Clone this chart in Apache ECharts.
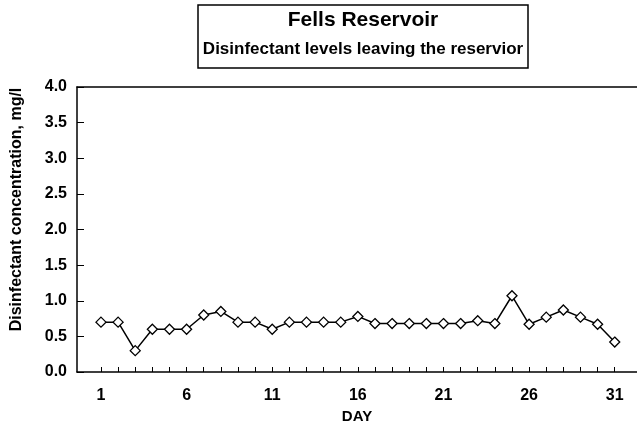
<!DOCTYPE html>
<html>
<head>
<meta charset="utf-8">
<script src="https://cdn.jsdelivr.net/npm/echarts@6/dist/echarts.min.js"></script>
<style>
  html, body { margin: 0; padding: 0; background: #fff; }
  #main { width: 637px; height: 429px; }
</style>
</head>
<body>
<div id="main"></div>
<script>
const days = [1, 2, 3, 4, 5, 6, 7, 8, 9, 10, 11, 12, 13, 14, 15, 16,
  17, 18, 19, 20, 21, 22, 23, 24, 25, 26, 27, 28, 29, 30, 31]
const levels = [0.7, 0.7, 0.3, 0.6, 0.6, 0.6, 0.8, 0.85, 0.7, 0.7, 0.6,
  0.7, 0.7, 0.7, 0.7, 0.78, 0.68, 0.68, 0.68, 0.68, 0.68, 0.68, 0.72,
  0.68, 1.07, 0.67, 0.77, 0.87, 0.77, 0.67, 0.42]
const dayLabels = [1, 6, 11, 16, 21, 26, 31]

const font = 'Liberation Sans, Arial, sans-serif'

var myChart = echarts.init(document.getElementById('main'))

let option = {
  animation: false,
  backgroundColor: '#fff',
  title: {
    text: 'Fells Reservoir',
    subtext: 'Disinfectant levels leaving the reservior',
    left: 358,
    top: 5,
    itemGap: 10,
    padding: [5, 5, 10, 5],
    borderColor: '#000',
    borderWidth: 1.5,
    textAlign: 'center',
    textStyle: { fontFamily: font, fontSize: 21, fontWeight: 'bold', color: '#000' },
    subtextStyle: { fontFamily: font, fontSize: 17, fontWeight: 'bold', color: '#000' },
  },
  grid: { left: 77, top: 87, right: 0, bottom: 57, containLabel: false, outerBoundsMode: 'none' },
  xAxis: [
    {
      type: 'value',
      min: -0.4,
      max: 32.3,
      name: 'DAY',
      nameLocation: 'middle',
      nameGap: 35,
      nameTextStyle: { fontFamily: font, fontSize: 15, fontWeight: 'bold', color: '#000' },
      axisLine: { onZero: false, lineStyle: { color: '#000', width: 1.5 } },
      axisTick: { inside: true, length: 5, customValues: days, lineStyle: { color: '#000' } },
      axisLabel: {
        customValues: dayLabels,
        margin: 16,
        fontFamily: font, fontSize: 16, fontWeight: 'bold', color: '#000',
      },
      splitLine: { show: false },
    },
    {
      type: 'value',
      position: 'top',
      min: -0.4,
      max: 32.3,
      axisLine: { show: true, onZero: false, lineStyle: { color: '#000', width: 1.5 } },
      axisTick: { show: false },
      axisLabel: { show: false },
      splitLine: { show: false },
    },
  ],
  yAxis: {
    type: 'value',
    min: 0,
    max: 4,
    interval: 0.5,
    name: 'Disinfectant concentration, mg/l',
    nameLocation: 'middle',
    nameGap: 52,
    nameTextStyle: {
      fontFamily: font, fontSize: 16, fontWeight: 'bold', color: '#000',
      padding: [0, 0, 0, 40],
    },
    axisLine: { show: true, onZero: false, lineStyle: { color: '#000', width: 1.5 } },
    axisTick: { inside: true, length: 7, lineStyle: { color: '#000' } },
    axisLabel: {
      margin: 10,
      formatter: (v) => v.toFixed(1),
      fontFamily: font, fontSize: 16, fontWeight: 'bold', color: '#000',
    },
    splitLine: { show: false },
  },
  series: [
    {
      name: 'level',
      type: 'line',
      data: days.map((d, i) => [d, levels[i]]),
      symbol: 'diamond',
      symbolSize: 10,
      showAllSymbol: true,
      lineStyle: { color: '#000', width: 1.5 },
      itemStyle: { color: '#fff', borderColor: '#000', borderWidth: 1.3 },
    },
  ],
}
myChart.setOption(option)
</script>
</body>
</html>
